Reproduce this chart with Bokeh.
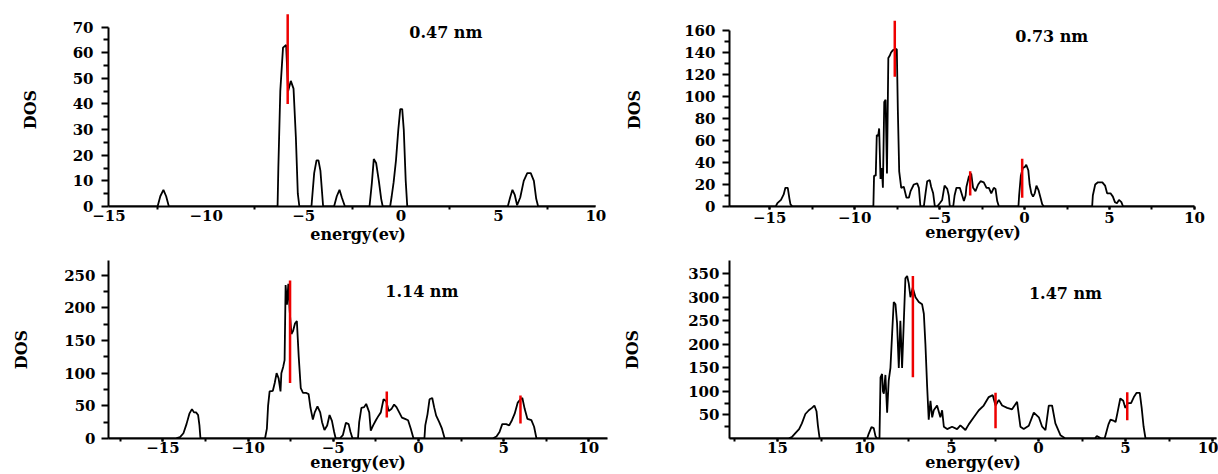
from bokeh.plotting import figure
from bokeh.layouts import column, row
from bokeh.models import Label, FixedTicker, Range1d
from bokeh.embed import file_html
from bokeh.resources import INLINE

FONT = "DejaVu Serif"

# ---------------- data (energy in eV, DOS) ----------------
# panel 1 : 0.47 nm
e1 = [-15.0, -12.50, -12.36, -12.20, -12.06, -11.92,
      -6.34, -6.30, -6.20, -6.06, -5.90, -5.80, -5.66, -5.52, -5.40, -5.30, -5.22,
      -4.60, -4.46, -4.34, -4.24, -4.14, -4.00,
      -3.44, -3.30, -3.16, -3.04, -2.88,
      -1.62, -1.50, -1.40, -1.28, -1.14, -1.02, -0.94,
      -0.56, -0.48, -0.38, -0.26, -0.14, -0.04, 0.06, 0.14, 0.24, 0.32,
      5.48, 5.60, 5.72, 5.84, 5.96, 6.12, 6.30, 6.48, 6.66, 6.82, 6.94, 7.04, 10.0]
d1 = [0, 0, 4, 6.5, 4, 0,
      0, 15, 45, 62, 63, 45, 49, 46, 27, 5, 0,
      0, 13, 18, 18, 14, 0,
      0, 4, 6.5, 3.5, 0,
      0, 9, 18.5, 17, 10, 3, 0,
      0, 4, 9.5, 18, 30, 38, 38, 30, 10, 0,
      0, 3.5, 6.5, 4.5, 0.5, 3.5, 10, 13, 13, 10, 3, 0, 0]

# panel 2 : 0.73 nm
e2 = [-17.4, -14.65, -14.55, -14.34, -14.18, -14.08, -13.94, -13.84, -13.78, -13.66,
      -8.90, -8.86, -8.76, -8.70, -8.62, -8.56, -8.48, -8.40, -8.34, -8.26, -8.18,
      -8.10, -8.02, -7.94, -7.86, -7.76, -7.64, -7.52, -7.46, -7.38, -7.26, -7.11,
      -6.95, -6.81, -6.71, -6.52, -6.32, -6.22, -6.13, -5.93, -5.83, -5.73, -5.58,
      -5.50, -5.38, -5.28, -5.15, -4.99, -4.85, -4.71, -4.55, -4.46, -4.40, -4.20,
      -4.12, -4.01, -3.81, -3.67, -3.57, -3.47, -3.42, -3.28, -3.14, -3.03, -2.89,
      -2.73, -2.59, -2.40, -2.24, -2.10, -1.96, -1.81, -1.71, -1.61, -1.51,
      -0.36, -0.32, -0.22, -0.10, 0.02, 0.10, 0.22, 0.30, 0.40, 0.50, 0.60, 0.70,
      0.82, 0.94, 1.04, 1.14,
      3.98, 4.02, 4.16, 4.32, 4.58, 4.74, 4.86, 5.06, 5.20, 5.32, 5.44, 5.56, 5.70,
      5.80, 10.0]
d2 = [0, 0, 3, 6, 11, 17, 17, 7, 2, 0,
      0, 28, 28, 65, 64, 71, 25, 35, 17, 95, 97,
      30, 135, 137, 140, 142, 143, 143, 88, 32, 17, 18,
      8, 8, 14, 20, 21, 17, 0, 0, 12, 23, 24,
      18, 12, 0, 0, 3, 6, 19, 16, 10, 0, 0,
      10, 17, 17, 10, 5, 10, 18, 27, 30, 17, 14,
      20, 23, 22, 17, 17, 12, 17, 16, 5, 0,
      0, 10, 28, 35, 36, 38, 33, 20, 12, 9, 12, 19,
      15, 8, 2, 0,
      0, 10, 20, 22, 22, 19, 12, 12, 9, 4, 3, 6, 4,
      0, 0]

# panel 3 : 1.14 nm
e3 = [-18.2, -14.30, -14.00, -13.80, -13.62, -13.45, -13.30, -13.18, -13.06, -12.94,
      -12.86, -12.80,
      -9.01, -8.90, -8.83, -8.74, -8.55, -8.44, -8.33, -8.21, -8.10, -8.05, -7.94,
      -7.86, -7.80, -7.72, -7.64, -7.56, -7.46, -7.36, -7.25, -7.14, -7.03, -6.91,
      -6.78, -6.61, -6.45, -6.34, -6.20, -6.09, -5.93, -5.77, -5.66, -5.52, -5.36,
      -5.22, -5.08, -4.95, -4.86, -4.62, -4.44, -4.26, -4.10, -3.99, -3.87, -3.55,
      -3.48, -3.35, -3.19, -3.07, -2.89, -2.80, -2.66, -2.50, -2.34, -2.21, -2.05,
      -1.89, -1.75, -1.59, -1.43, -1.29, -1.13, -0.97, -0.79, -0.61, -0.45, -0.29,
      0.35, 0.40, 0.53, 0.65, 0.81, 0.92, 1.04, 1.22, 1.38, 1.54,
      4.35, 4.58, 4.76, 4.92, 5.15, 5.33, 5.49, 5.65, 5.83, 5.99, 6.10, 6.24, 6.40,
      6.63, 6.79, 6.93, 11.1]
d3 = [0, 0, 2, 8, 22, 38, 45, 40, 40, 36,
      20, 0,
      0, 15, 50, 72, 73, 85, 100, 92, 72, 100, 110,
      120, 235, 205, 237, 195, 160, 165, 176, 180, 125, 77,
      70, 70, 68, 47, 29, 40, 49, 40, 25, 13, 20,
      36, 27, 10, 0, 0, 5, 24, 22, 10, 0, 0,
      25, 47, 48, 53, 40, 12, 20, 28, 35, 40, 60,
      57, 42, 45, 52, 48, 40, 32, 30, 28, 15, 0,
      0, 20, 37, 60, 62, 48, 35, 25, 15, 0,
      0, 3, 10, 22, 22, 20, 28, 38, 55, 60, 62, 45, 30,
      28, 18, 0, 0]

# panel 4 : 1.47 nm
e4 = [-17.8, -14.40, -14.18, -13.96, -13.76, -13.60, -13.40, -13.20, -13.02, -12.88,
      -12.76, -12.68, -12.58,
      -9.85, -9.76, -9.60, -9.47, -9.37, -9.28, -9.14,
      -9.08, -8.99, -8.94, -8.89, -8.80, -8.70, -8.61, -8.51, -8.41, -8.32, -8.22,
      -8.13, -8.03, -7.94, -7.84, -7.74, -7.65, -7.55, -7.46, -7.36, -7.23, -7.07,
      -6.88, -6.69, -6.59, -6.50, -6.40, -6.31, -6.21, -6.11, -6.02, -5.83, -5.64,
      -5.54, -5.44, -5.25, -4.97, -4.68, -4.49, -4.20, -4.01, -3.72, -3.43, -3.15,
      -2.86, -2.63, -2.47, -2.28, -2.09, -1.80, -1.52, -1.23, -1.04, -0.85, -0.56,
      -0.27, 0.02, 0.21, 0.40, 0.59, 0.78, 0.97, 1.26, 1.55,
      3.24, 3.35, 3.62, 3.80, 3.91, 4.02, 4.14, 4.30, 4.43, 4.54, 4.70, 4.87, 4.99,
      5.14, 5.32, 5.48, 5.64, 5.82, 5.93, 6.04, 6.15, 10.3]
d4 = [0, 0, 3, 12, 20, 32, 52, 60, 65, 70,
      58, 28, 0,
      0, 10, 24, 22, 5, 0, 0,
      130, 137, 100, 95, 135, 55, 123, 150, 225, 290, 285,
      245, 150, 250, 150, 250, 340, 345, 330, 300, 320, 300,
      290, 285, 265, 200, 110, 40, 80, 45, 60, 70, 45,
      60, 25, 20, 25, 20, 28, 18, 30, 45, 60, 70,
      88, 92, 70, 82, 70, 65, 62, 78, 25, 20, 27,
      55, 45, 25, 18, 70, 70, 32, 7, 0,
      0, 5, 0, 0, 15, 30, 40, 38, 35, 55, 85, 80, 65,
      75, 75, 88, 97, 97, 65, 25, 0, 0]

# red marker lines: energy, lower DOS, upper DOS
r1_e, r1_lo, r1_hi = [-5.82], [40], [75]
r2_e, r2_lo, r2_hi = [-7.64, -3.20, -0.14], [118, 10, 8], [169, 32, 43.5]
r3_e, r3_lo, r3_hi = [-7.54, -1.86, 5.99], [85, 32, 23], [242, 72, 66]
r4_e, r4_lo, r4_hi = [-7.22, -2.47, 5.10], [130, 22, 39], [345, 97, 98]

titles = ["0.47 nm", "0.73 nm", "1.14 nm", "1.47 nm"]
x_major = [-15, -10, -5, 0, 5, 10]


def panel(w, h, xr, yr, bl, br, bt, bb, e, d, re, rlo, rhi,
          xminor, xmajor_out, yt, yminor, ybounds, title, tx, ty,
          y_lab_standoff, y_axlab_standoff, x_lab_standoff, x_axlab_standoff,
          xoverrides=None, xbounds=None):
    p = figure(width=w, height=h, x_range=Range1d(*xr), y_range=Range1d(*yr),
               output_backend="svg", toolbar_location=None, title=None,
               min_border_left=bl, min_border_right=br,
               min_border_top=bt, min_border_bottom=bb,
               x_axis_label="energy(ev)", y_axis_label="DOS")
    p.grid.visible = False
    p.outline_line_color = None
    p.background_fill_color = "white"
    p.border_fill_color = "white"

    p.line(e, d, line_color="black", line_width=1.8)
    p.segment(x0=re, y0=rlo, x1=re, y1=rhi, line_color="#ee0000", line_width=2.5)

    xa = p.xaxis[0]
    xa.ticker = FixedTicker(ticks=x_major, minor_ticks=xminor)
    if xbounds is not None:
        xa.bounds = xbounds
    xa.axis_line_width = 2
    xa.axis_line_color = "black"
    xa.major_tick_in = 0
    xa.minor_tick_in = 0
    xa.major_tick_out = xmajor_out
    xa.minor_tick_out = 3
    xa.major_tick_line_width = 2
    xa.minor_tick_line_width = 2
    xa.major_label_text_font = FONT
    xa.major_label_text_font_style = "bold"
    xa.major_label_text_font_size = "15px"
    xa.major_label_text_color = "black"
    xa.major_label_standoff = x_lab_standoff
    xa.axis_label_text_font = FONT
    xa.axis_label_text_font_style = "bold"
    xa.axis_label_text_font_size = "16px"
    xa.axis_label_text_color = "black"
    xa.axis_label_standoff = x_axlab_standoff
    if xoverrides:
        xa.major_label_overrides = xoverrides

    ya = p.yaxis[0]
    ya.ticker = FixedTicker(ticks=yt, minor_ticks=yminor)
    if ybounds is not None:
        ya.bounds = ybounds
    ya.axis_line_width = 2
    ya.axis_line_color = "black"
    ya.major_tick_in = 0
    ya.minor_tick_in = 0
    ya.major_tick_out = 7
    ya.minor_tick_out = 5
    ya.major_tick_line_width = 2
    ya.minor_tick_line_width = 2
    ya.major_label_text_font = FONT
    ya.major_label_text_font_style = "bold"
    ya.major_label_text_font_size = "15px"
    ya.major_label_text_color = "black"
    ya.major_label_standoff = y_lab_standoff
    ya.axis_label_text_font = FONT
    ya.axis_label_text_font_style = "bold"
    ya.axis_label_text_font_size = "16px"
    ya.axis_label_text_color = "black"
    ya.axis_label_standoff = y_axlab_standoff

    p.add_layout(Label(x=tx, y=ty, text=title, text_font=FONT,
                       text_font_style="bold", text_font_size="16px",
                       text_align="center", text_baseline="middle",
                       text_color="black"))
    return p


minor_all = [-17.5, -15, -12.5, -10, -7.5, -5, -2.5, 0, 2.5, 5, 7.5, 10]

# common borders: column 1 left 108 / right 3, column 2 left 119 / right 2
# top row top 12 / bottom 44, bottom row top 10 / bottom 35
p1 = panel(610, 250, (-15.02, 10.6), (0, 75.7), 108, 3, 12, 44,
           e1, d1, r1_e, r1_lo, r1_hi,
           [-12.5, -7.5, -2.5, 2.5, 7.5], 0,
           [0, 10, 20, 30, 40, 50, 60, 70], [5, 15, 25, 35, 45, 55, 65], (0, 70),
           titles[0], 2.3, 67.8, 8, 30, 0, 1, xbounds=(-15.02, 10))

p2 = panel(608, 250, (-17.37, 11.3), (0, 176.4), 119, 2, 12, 44,
           e2, d2, r2_e, r2_lo, r2_hi,
           minor_all, 3,
           [0, 20, 40, 60, 80, 100, 120, 140, 160],
           [10, 30, 50, 70, 90, 110, 130, 150], (0, 160),
           titles[1], 1.6, 155, 7, 37, 2, -3, xbounds=(-17.37, 10))

p3 = panel(610, 224, (-18.2, 11.1), (0, 272.5), 108, 3, 10, 35,
           e3, d3, r3_e, r3_lo, r3_hi,
           minor_all, 3,
           [0, 50, 100, 150, 200, 250], [25, 75, 125, 175, 225], None,
           titles[2], 0.2, 225, 6, 30, 0, -3)

p4 = panel(608, 224, (-17.76, 10.23), (0, 378), 119, 2, 10, 35,
           e4, d4, r4_e, r4_lo, r4_hi,
           minor_all, 3,
           [50, 100, 150, 200, 250, 300, 350],
           [25, 75, 125, 175, 225, 275, 325], None,
           titles[3], 1.55, 308, 3, 43, 0, -3,
           xoverrides={-15: "15", -10: "10", -5: "5"})

layout = column(row(p1, p2), row(p3, p4))

open("out.html", "w").write(file_html(layout, INLINE))
